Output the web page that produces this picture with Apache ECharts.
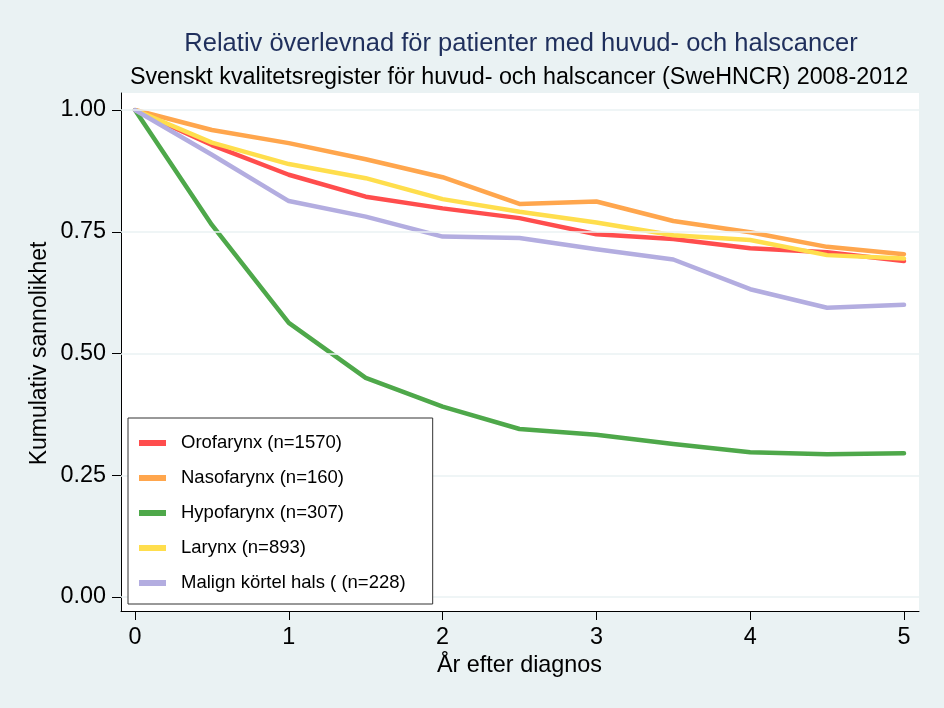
<!DOCTYPE html>
<html>
<head>
<meta charset="utf-8">
<script src="https://cdn.jsdelivr.net/npm/echarts@6/dist/echarts.min.js"></script>
<style>
html,body{margin:0;padding:0;background:#eaf2f3;}
#chart{width:944px;height:708px;}
</style>
</head>
<body>
<div id="chart"></div>
<script>
// ---- data ----
const years = [0, 0.5, 1, 1.5, 2, 2.5, 3, 3.5, 4, 4.5, 5];
const seriesNames = ['Orofarynx (n=1570)', 'Nasofarynx (n=160)', 'Hypofarynx (n=307)', 'Larynx (n=893)', 'Malign körtel hals ( (n=228)'];
const orofarynx = [1.00, 0.928, 0.867, 0.822, 0.798, 0.778, 0.745, 0.735, 0.716, 0.708, 0.690];
const nasofarynx = [1.00, 0.959, 0.932, 0.899, 0.862, 0.807, 0.812, 0.772, 0.749, 0.719, 0.704];
const hypofarynx = [1.00, 0.764, 0.563, 0.450, 0.391, 0.345, 0.333, 0.314, 0.297, 0.293, 0.295];
const larynx = [1.00, 0.933, 0.889, 0.860, 0.817, 0.791, 0.769, 0.743, 0.733, 0.702, 0.695];
const malign = [1.00, 0.908, 0.813, 0.781, 0.740, 0.737, 0.714, 0.693, 0.632, 0.594, 0.600];
const yTicks = [0, 0.25, 0.5, 0.75, 1];
const xTicks = [0, 1, 2, 3, 4, 5];
const titleText = 'Relativ överlevnad för patienter med huvud- och halscancer';
const subtitleText = 'Svenskt kvalitetsregister för huvud- och halscancer (SweHNCR) 2008-2012';
const xTitle = 'År efter diagnos';
const yTitle = 'Kumulativ sannolikhet';

// ---- styles ----
const colors = ['#ff4d4d', '#ffa64d', '#4ea84a', '#ffde4d', '#b3ade0'];
const FONT = '"Liberation Sans", Arial, Helvetica, sans-serif';
const BG = '#eaf2f3';

// inner (data) area in px and outer frame in px
const inner = {l: 135, r: 904, t: 110, b: 597};
const outer = {l: 121, r: 919, t: 93, b: 611};
const xMin = 0, xMax = 5, yMin = 0, yMax = 1;
const pxPerX = (inner.r - inner.l) / (xMax - xMin);
const pxPerY = (inner.b - inner.t) / (yMax - yMin);
const oxMin = xMin - (inner.l - outer.l) / pxPerX;
const oxMax = xMax + (outer.r - inner.r) / pxPerX;
const oyMin = yMin - (outer.b - inner.b) / pxPerY;
const oyMax = yMax + (inner.t - outer.t) / pxPerY;

const dataSets = [orofarynx, nasofarynx, hypofarynx, larynx, malign];

const chart = echarts.init(document.getElementById('chart'), null, {renderer: 'canvas'});

const series = [{
  type: 'line', name: '__grid', xAxisIndex: 0, yAxisIndex: 0, data: [], z: 1, silent: true,
  markLine: {
    silent: true, symbol: 'none', label: {show: false},
    lineStyle: {color: BG, width: 1.5, type: 'solid'},
    emphasis: {disabled: true},
    animation: false,
    data: yTicks.map(v => ({yAxis: v}))
  }
}];
dataSets.forEach((arr, i) => {
  series.push({
    type: 'line', name: seriesNames[i], xAxisIndex: 1, yAxisIndex: 1, z: 3,
    data: years.map((t, k) => [t, arr[k]]),
    symbol: 'none', showSymbol: false,
    lineStyle: {color: colors[i], width: 4.5, cap: 'round', join: 'round'},
    itemStyle: {color: colors[i]},
    emphasis: {disabled: true},
    animation: false
  });
});

chart.setOption({
  backgroundColor: BG,
  animation: false,
  textStyle: {fontFamily: FONT},
  title: [
    {text: titleText, left: 521, top: 31, textAlign: 'center', padding: 0,
     textStyle: {fontSize: 25.5, fontWeight: 'normal', color: '#1f2f5c', fontFamily: FONT}},
    {text: subtitleText, left: 519, top: 66, textAlign: 'center', padding: 0,
     textStyle: {fontSize: 23.3, fontWeight: 'normal', color: '#000', fontFamily: FONT}}
  ],
  graphic: [{
    type: 'text', x: 40, y: (inner.t + inner.b) / 2, rotation: Math.PI / 2, silent: true,
    style: {text: yTitle, fontSize: 23, fill: '#000', fontFamily: FONT, align: 'center', verticalAlign: 'middle'}
  }],
  grid: [
    {left: outer.l, top: outer.t, width: outer.r - outer.l, height: outer.b - outer.t,
     show: true, backgroundColor: '#ffffff', borderWidth: 0, containLabel: false},
    {left: inner.l, top: inner.t, width: inner.r - inner.l, height: inner.b - inner.t,
     show: false, containLabel: false}
  ],
  xAxis: [
    {type: 'value', gridIndex: 0, min: oxMin, max: oxMax,
     axisLine: {show: true, onZero: false, lineStyle: {color: '#000', width: 1}},
     axisTick: {show: false}, axisLabel: {show: false}, splitLine: {show: false}},
    {type: 'value', gridIndex: 1, min: xMin, max: xMax, interval: 1, offset: outer.b - inner.b,
     axisLine: {show: false, onZero: false},
     axisTick: {show: true, length: 9, lineStyle: {color: '#000', width: 1}},
     axisLabel: {show: true, fontSize: 23.4, color: '#000', margin: 15, fontFamily: FONT},
     splitLine: {show: false},
     name: xTitle, nameLocation: 'middle', nameGap: 43,
     nameTextStyle: {fontSize: 23.4, color: '#000', fontFamily: FONT}}
  ],
  yAxis: [
    {type: 'value', gridIndex: 0, min: oyMin, max: oyMax,
     axisLine: {show: true, onZero: false, lineStyle: {color: '#000', width: 1}},
     axisTick: {show: false}, axisLabel: {show: false}, splitLine: {show: false}},
    {type: 'value', gridIndex: 1, min: yMin, max: yMax, interval: 0.25, offset: inner.l - outer.l,
     axisLine: {show: false, onZero: false},
     axisTick: {show: true, length: 9, lineStyle: {color: '#000', width: 1}},
     axisLabel: {show: true, fontSize: 23.4, color: '#000', margin: 15, fontFamily: FONT,
                 formatter: v => v.toFixed(2)},
     splitLine: {show: false}}
  ],
  legend: {
    data: seriesNames, orient: 'vertical', left: 128, top: 418, z: 20,
    backgroundColor: '#ffffff', borderColor: '#333', borderWidth: 1,
    padding: [15, 27, 11, 11], itemGap: 15, itemWidth: 27, itemHeight: 6,
    icon: 'rect', selectedMode: false,
    textStyle: {fontSize: 18.5, color: '#000', fontFamily: FONT, lineHeight: 20, padding: [0, 0, 0, 10]}
  },
  series: series
});
</script>
</body>
</html>
